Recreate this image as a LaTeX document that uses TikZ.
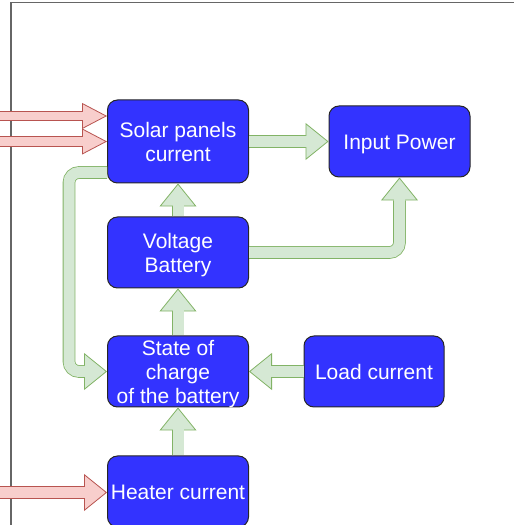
\documentclass[tikz,border=0pt]{standalone}
\usepackage{fontspec}
\setmainfont{Liberation Sans}
\usetikzlibrary{arrows.meta}
\newcommand{\blockfont}{\fontsize{21}{24}\selectfont}
\newcommand{\topstrut}{\rule{0pt}{22.6pt}}

\begin{document}
\begin{tikzpicture}[x=1pt, y=1pt,
  block/.style={draw=black!85, line width=1pt, fill=blockblue, rounded corners=10pt,
    minimum width=141pt, minimum height=71pt, inner sep=0pt, text=white,
    align=center, font=\blockfont,
    execute at end node={\rule[-6pt]{0pt}{6pt}}},
  greenflow/.style={draw=flowgreenline, line width=12.6pt, rounded corners=10pt,
    -{Triangle[length=23pt, width=37pt, line width=0.8pt, fill=flowgreen]},
    postaction={draw=flowgreen, line width=11pt, arrows=-, shorten >=21.5pt}},
  redflow/.style={draw=flowredline, line width=13pt,
    -{Triangle[length=23pt, width=37pt, line width=0.8pt, fill=flowred]},
    postaction={draw=flowred, line width=11.4pt, arrows=-, shorten >=21.5pt}},
  redthin/.style={draw=flowredline, line width=10.5pt,
    -{Triangle[length=25pt, width=26pt, line width=0.8pt, fill=flowred]},
    postaction={draw=flowred, line width=8.9pt, arrows=-, shorten >=23.5pt}}]
\definecolor{blockblue}{RGB}{51,51,255}
\definecolor{flowgreen}{RGB}{213,232,212}
\definecolor{flowgreenline}{RGB}{130,179,102}
\definecolor{flowred}{RGB}{248,206,204}
\definecolor{flowredline}{RGB}{184,84,80}
\useasboundingbox (0,0) rectangle (514,525);
% Frame
\draw[black!60, line width=1.5pt] (11,-2) -- (11,522.5) -- (516,522.5);
% Blocks
\node[block, minimum height=83pt] (solar) at (178,383.5) {\topstrut Solar panels\\current};
\node[block] (power) at (399.5,383.5) {\topstrut Input Power};
\node[block] (volt) at (178,272.5) {\topstrut Voltage\\Battery};
\node[block, text depth=0pt] (soc) at (178,153.5) {State of\\charge\\of the battery};
\node[block, minimum width=140pt] (load) at (374,153.5) {\topstrut Load current};
\node[block] (heater) at (178,33.5) {\topstrut Heater current};
% Inputs from outside
\coordinate (sun1) at (-4,409);
\coordinate (sun2) at (-4,383.5);
\coordinate (heat) at (-4,32.5);
\draw[redthin] (sun1) -- (sun1 -| solar.west);
\draw[redthin] (sun2) -- (solar.west);
\draw[redflow] (heat) -- (heat -| heater.west);
% Internal flows
\draw[greenflow] (solar.east) -- (power.west);
\draw[greenflow] (volt.north) -- (solar.south);
\draw[greenflow] (volt.east) -| (power.south);
\draw[greenflow] ([yshift=11pt]solar.south west) -- ++(-38,0) |- (soc.west);
\draw[greenflow] (soc.north) -- (volt.south);
\draw[greenflow] (load.west) -- (soc.east);
\draw[greenflow] (heater.north) -- (soc.south);
\end{tikzpicture}
\end{document}
